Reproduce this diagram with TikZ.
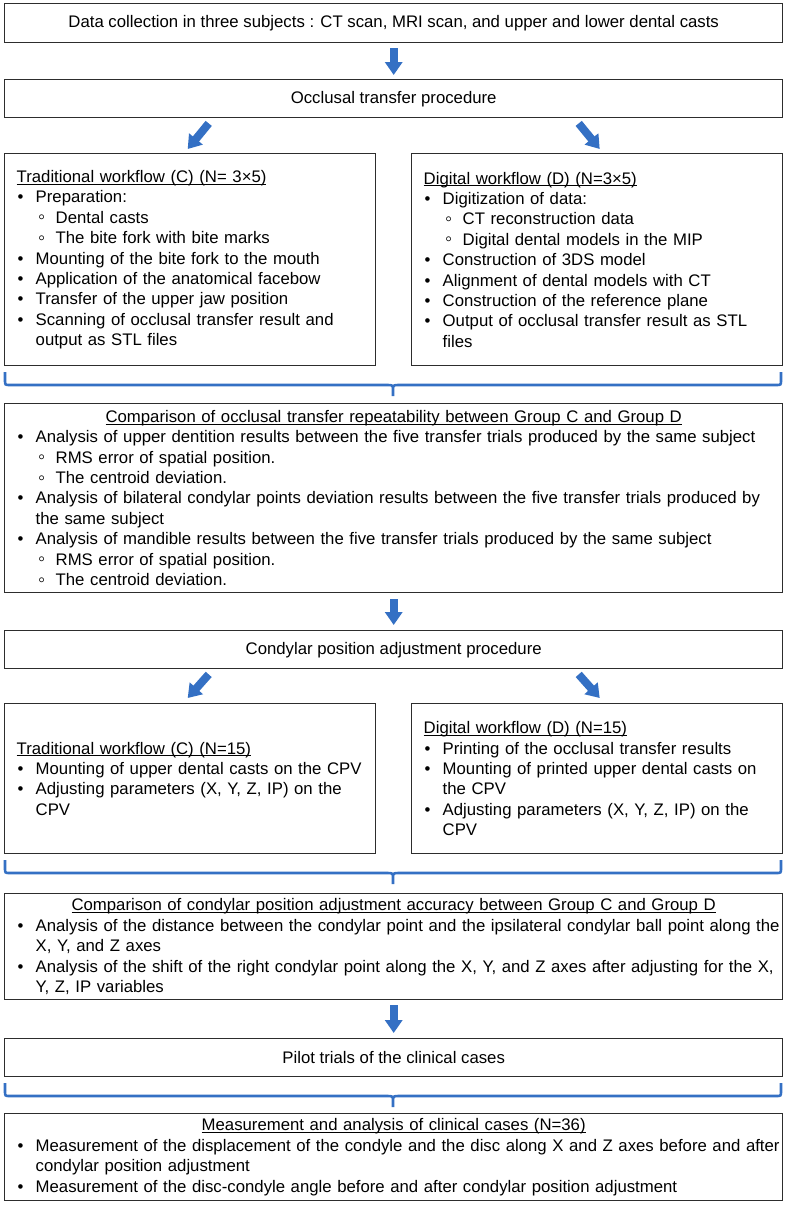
\documentclass[tikz,border=0pt]{standalone}
\usepackage{fontspec}
\setmainfont{Liberation Sans}
\usetikzlibrary{arrows.meta,calc}
\definecolor{arrowblue}{RGB}{52,112,196}
\definecolor{boxline}{RGB}{45,45,45}
\newcommand{\hdr}[1]{\underline{\smash{#1}}\vphantom{#1}}
\newcommand{\bitem}[1]{\\\mbox{\makebox[19pt][l]{\hspace{1pt}•}#1}}
\newcommand{\citem}[1]{\\\mbox{\hspace*{19pt}#1}}
\newcommand{\sitem}[1]{\\\mbox{\hspace*{21.5pt}\makebox[17.5pt][l]{\raisebox{-0.6pt}{\fontsize{20}{20}\selectfont ◦}}#1}}
\newcommand{\chdr}[1]{\makebox[\linewidth][c]{\hdr{#1}}}
\newcommand{\mybrace}[1]{%
  \draw[bracestyle] (5,#1+7) -- (5,#1+15) .. controls (5,#1+20) .. (10,#1+20) -- (387,#1+20)
    .. controls (393,#1+20) .. (393,#1+26) -- (393,#1+31)
    (393,#1+26) .. controls (393,#1+20) .. (399,#1+20) -- (776,#1+20)
    .. controls (781,#1+20) .. (781,#1+15) -- (781,#1+7);}
\begin{document}
\begin{tikzpicture}[x=1pt,y=-1pt,
  box/.style={draw=boxline, line width=1.4pt, rectangle, inner xsep=12pt, inner ysep=0pt,
    anchor=north west, font=\fontsize{16.75}{20.4}\selectfont},
  wide/.style={minimum width=778pt},
  half/.style={minimum width=371pt, text width=347pt, align=left},
  full/.style={minimum width=778pt, text width=754pt, align=left},
  varrow/.style={draw=arrowblue, line width=8pt, -{Triangle[length=13pt,width=17pt]}},
  bracestyle/.style={draw=arrowblue, line width=2.6pt}]
\fill[white] (0,0) rectangle (788,1205);
\useasboundingbox (0,0) rectangle (788,1205);

\node[box, wide, minimum height=39pt] (b1) at (4,3)
  {Data collection in three subjects : CT scan, MRI scan, and upper and lower dental casts};
\node[box, wide, minimum height=38pt] (b2) at (4,79) {Occlusal transfer procedure};

\node[box, half, minimum height=212pt] (c1) at (4,153) {%
\mbox{\hdr{Traditional workflow (C) (N= 3×5)}}%
\bitem{Preparation:}%
\sitem{Dental casts}%
\sitem{The bite fork with bite marks}%
\bitem{Mounting of the bite fork to the mouth}%
\bitem{Application of the anatomical facebow}%
\bitem{Transfer of the upper jaw position}%
\bitem{Scanning of occlusal transfer result and}%
\citem{output as STL files}};

\node[box, half, minimum height=212pt] (d1) at (411,153) {%
\mbox{\hdr{Digital workflow (D) (N=3×5)}}%
\bitem{Digitization of data:}%
\sitem{CT reconstruction data}%
\sitem{Digital dental models in the MIP}%
\bitem{Construction of 3DS model}%
\bitem{Alignment of dental models with CT}%
\bitem{Construction of the reference plane}%
\bitem{Output of occlusal transfer result as STL}%
\citem{files}};

\node[box, full, minimum height=189pt] (cmp1) at (4,403) {%
\chdr{Comparison of occlusal transfer repeatability between Group C and Group D}%
\bitem{Analysis of upper dentition results between the five transfer trials produced by the same subject}%
\sitem{RMS error of spatial position.}%
\sitem{The centroid deviation.}%
\bitem{Analysis of bilateral condylar points deviation results between the five transfer trials produced by}%
\citem{the same subject}%
\bitem{Analysis of mandible results between the five transfer trials produced by the same subject}%
\sitem{RMS error of spatial position.}%
\sitem{The centroid deviation.}};

\node[box, wide, minimum height=38pt] (b3) at (4,630) {Condylar position adjustment procedure};

\node[box, half, minimum height=150pt] (c2) at (4,703) {%
\mbox{\hdr{Traditional workflow (C) (N=15)}}%
\bitem{Mounting of upper dental casts on the CPV}%
\bitem{Adjusting parameters (X, Y, Z, IP) on the}%
\citem{CPV}};

\node[box, half, minimum height=150pt] (d2) at (411,703) {%
\mbox{\hdr{Digital workflow (D) (N=15)}}%
\bitem{Printing of the occlusal transfer results}%
\bitem{Mounting of printed upper dental casts on}%
\citem{the CPV}%
\bitem{Adjusting parameters (X, Y, Z, IP) on the}%
\citem{CPV}};

\node[box, full, minimum height=106pt] (cmp2) at (4,893) {%
\chdr{Comparison of condylar position adjustment accuracy between Group C and Group D}%
\bitem{Analysis of the distance between the condylar point and the ipsilateral condylar ball point along the}%
\citem{X, Y, and Z axes}%
\bitem{Analysis of the shift of the right condylar point along the X, Y, and Z axes after adjusting for the X,}%
\citem{Y, Z, IP variables}};

\node[box, wide, minimum height=38pt] (b4) at (4,1038) {Pilot trials of the clinical cases};

\node[box, full, minimum height=87pt] (cmp3) at (4,1113) {%
\chdr{Measurement and analysis of clinical cases (N=36)}%
\bitem{Measurement of the displacement of the condyle and the disc along X and Z axes before and after}%
\citem{condylar position adjustment}%
\bitem{Measurement of the disc-condyle angle before and after condylar position adjustment}};

% vertical arrows
\draw[varrow, shorten <=5pt, shorten >=4pt] (b1) -- (b2);
\draw[varrow, shorten <=6pt, shorten >=5pt] (cmp1) -- (b3);
\draw[varrow, shorten <=5pt, shorten >=5pt] (cmp2) -- (b4);

% diagonal arrows
\coordinate (a1s) at ($(b2.south)+(-185,5)$);
\coordinate (a1e) at ($(c1.north)+(-2.5,-4)$);
\coordinate (a2s) at ($(b2.south)+(185,5)$);
\coordinate (a2e) at ($(d1.north)+(2.5,-4)$);
\draw[varrow] (a1s) -- (a1e);
\draw[varrow] (a2s) -- (a2e);
\coordinate (a3s) at ($(b3.south)+(-185,5)$);
\coordinate (a3e) at ($(c2.north)+(-2.5,-5)$);
\coordinate (a4s) at ($(b3.south)+(185,5)$);
\coordinate (a4e) at ($(d2.north)+(2.5,-5)$);
\draw[varrow] (a3s) -- (a3e);
\draw[varrow] (a4s) -- (a4e);

% braces
\mybrace{365}
\mybrace{853}
\mybrace{1076}
\end{tikzpicture}
\end{document}
